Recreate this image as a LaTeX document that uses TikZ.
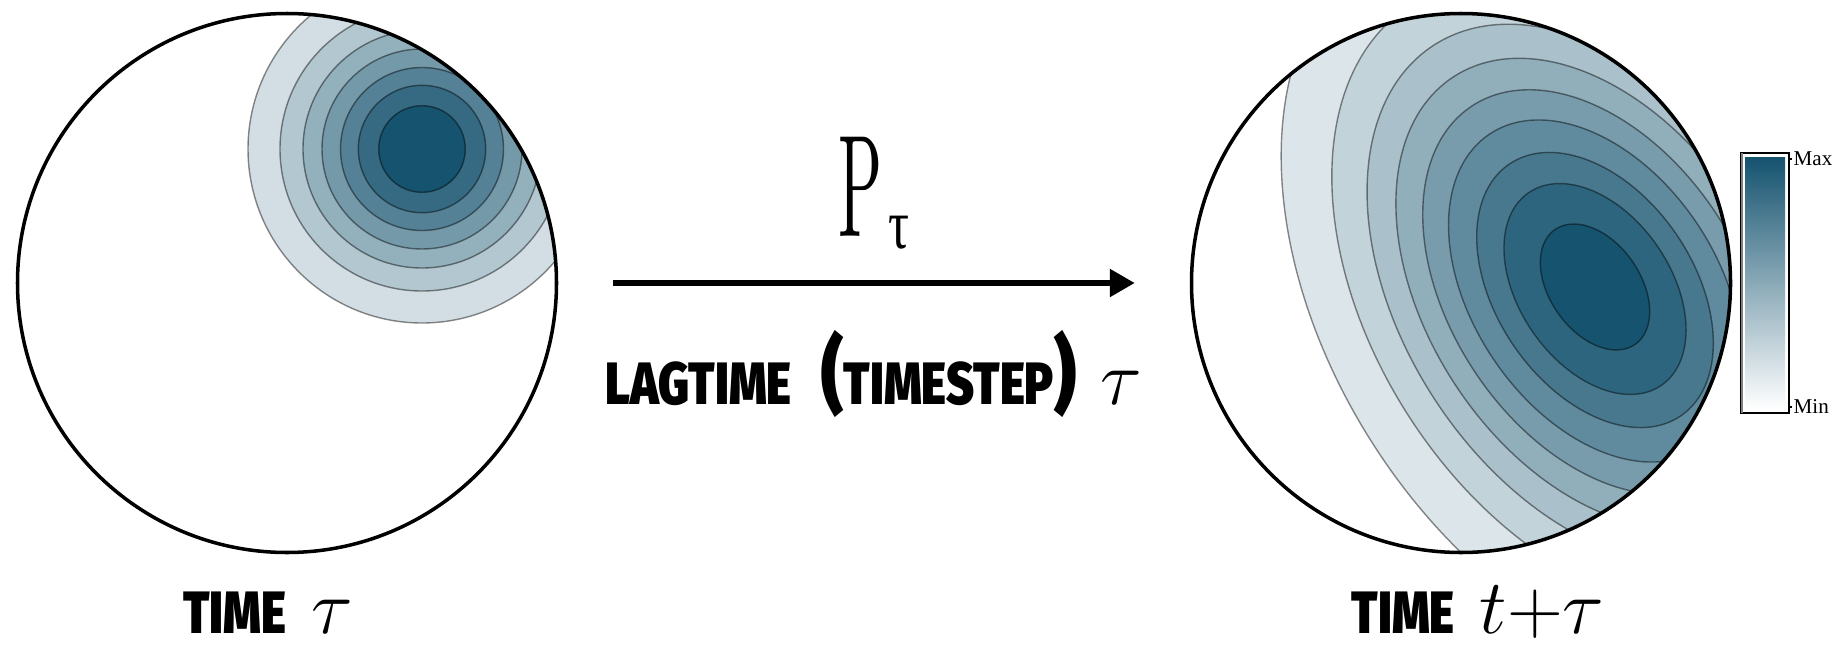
\RequirePackage{fix-cm}
\documentclass[tikz,border=0pt]{standalone}
\usepackage{fontspec}
\newfontfamily\heavyfont{Fira Sans Black}[FakeStretch=0.8]
\newfontfamily\greekfont{Liberation Serif}
\usetikzlibrary{arrows.meta}
\definecolor{deepteal}{RGB}{21,83,111}
\newcommand{\bigparen}[1]{\raisebox{0.3pt}{\fontsize{24}{24}\selectfont#1}}

\begin{document}
\begin{tikzpicture}[x=0.1mm, y=-0.1mm,
    contour/.style={draw=black, draw opacity=0.45, line width=0.4pt},
    sphere/.style={draw, circle, line width=1pt, minimum size=53.9mm, inner sep=0pt},
    caption/.style={font=\heavyfont\fontsize{17}{17}\selectfont, inner sep=0pt}]
  \useasboundingbox (0,0) rectangle (1837,646);
  \coordinate (cl) at (287,283);
  \coordinate (cr) at (1461,283);
  % density at time tau
  \begin{scope}
    \clip (cl) circle[radius=269.5];
    \foreach \r/\p in {174/19, 142/32.5, 119/46, 100/59.5, 81.5/73, 63.7/86.5, 43.3/100}
      \filldraw[contour, fill=deepteal!\p!white] (422,149) circle[radius=\r];
  \end{scope}
  % density after one lagtime
  \begin{scope}
    \clip (cr) circle[radius=269.5];
    \foreach \s/\a/\d/\p in {6.05/-58/10/15, 5.05/-57.4/8/25.6, 4.36/-57/7/36.25, 3.8/-56.7/6/46.9,
                             3.28/-56.4/5/57.5, 2.78/-56/4/68.1, 2.24/-55.7/3/78.75, 1.72/-55.4/2/89.4, 1.03/-55/0/100}
      \filldraw[contour, fill=deepteal!\p!white, rotate around={\a:(1595,287+\d)}]
        (1595,287+\d) ellipse[x radius=68*\s, y radius=44*\s];
  \end{scope}
  \node[sphere] (before) at (cl) {};
  \node[sphere] (after) at (cr) {};
  \draw[-{Triangle[length=2.5mm, width=2.7mm]}, line width=1.6pt, shorten <=5.5mm, shorten >=5.5mm]
    (before) -- node[above=4.65mm, anchor=base, inner sep=0pt] (ptau)
                  {\scalebox{1}[2.25]{\resizebox{4.4mm}{!}{P}}\hspace{0.6mm}\raisebox{-1.2mm}{\scalebox{1}[1.35]{\resizebox{2.1mm}{!}{\greekfont τ}}}}
                node[below=12.15mm, anchor=base, caption] (lag)
                  {LAGTIME\hspace{3mm}\bigparen{(}TIMESTEP\bigparen{)}\hspace{2.5mm}{\fontsize{22}{22}\selectfont$\tau$}} (after);
  \node[caption, anchor=base] (tnow) at (268,633) {TIME\hspace{2.5mm}{\fontsize{22}{22}\selectfont$\tau$}};
  \node[caption, anchor=base] (tlater) at (1478,633) {TIME\hspace{2.5mm}{\fontsize{22}{22}\selectfont$t{+}\tau$}};
  % colour bar
  \shade[top color=deepteal, bottom color=white] (1745,157) rectangle (1785,409);
  \draw[line width=0.4pt] (1741,153) rectangle (1789,413);
  \draw[gray, line width=0.8pt] (1742,153) -- (1742,413);
  \draw[line width=0.4pt] (1789,159) -- (1792,159) (1789,407) -- (1792,407);
  \node[anchor=west, inner sep=0pt, font=\greekfont\fontsize{6}{6}\selectfont] (maxlbl) at (1793,159) {Max};
  \node[anchor=west, inner sep=0pt, font=\greekfont\fontsize{6}{6}\selectfont] (minlbl) at (1793,407) {Min};
\end{tikzpicture}
\end{document}
